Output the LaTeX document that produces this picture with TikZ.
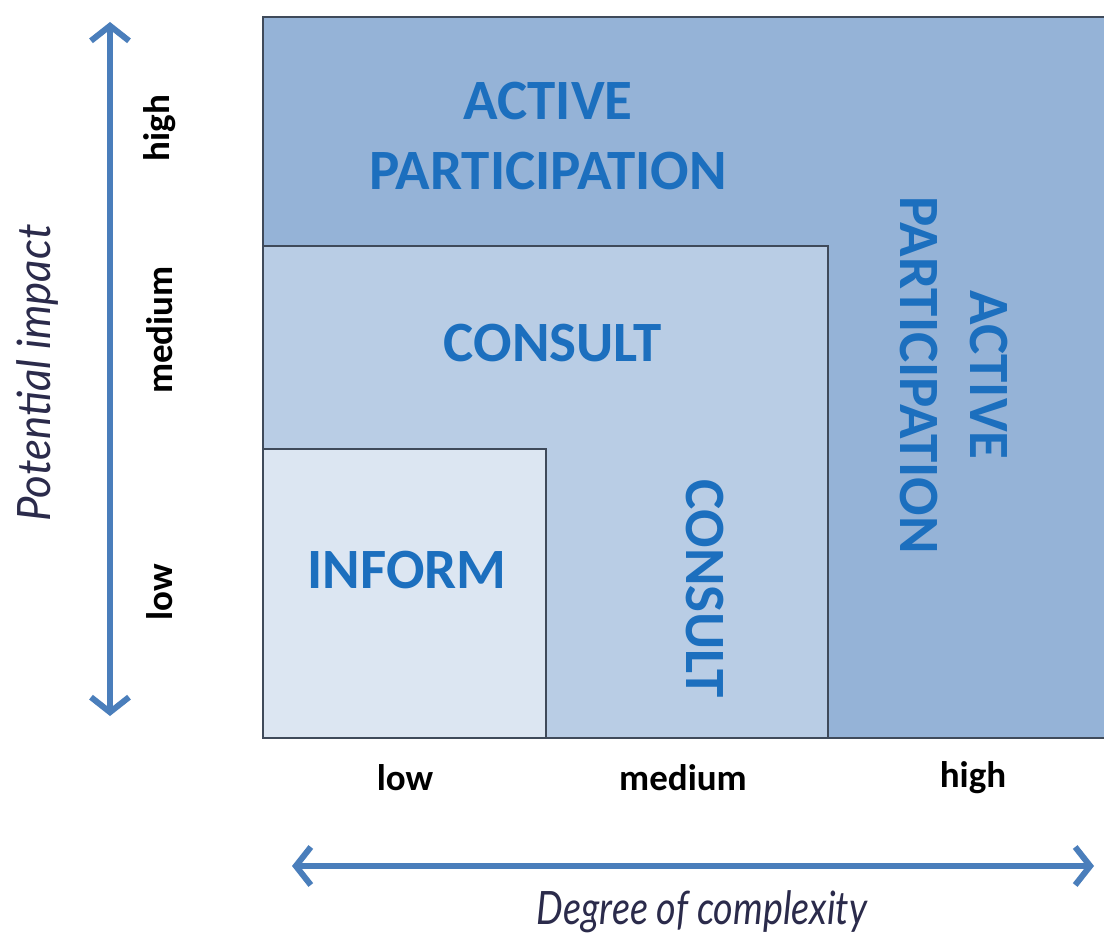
\documentclass[tikz,border=0pt]{standalone}
\usepackage{fontspec}
\setmainfont{Carlito}
\newfontfamily\axisfont{Lato}
\usetikzlibrary{arrows.meta}
\definecolor{outerfill}{HTML}{95B3D7}
\definecolor{midfill}{HTML}{B9CDE5}
\definecolor{innerfill}{HTML}{DCE6F2}
\definecolor{framecol}{HTML}{3F4A5A}
\definecolor{txtblue}{HTML}{1C6FBE}
\definecolor{arrowblue}{HTML}{4A7EBB}
\definecolor{navy}{HTML}{2B2B4B}
\tikzset{
  region/.style={draw=framecol, line width=2pt, anchor=north west, inner sep=0pt, outer sep=0pt},
  big/.style={text=txtblue, font=\fontsize{57}{70}\selectfont\bfseries, align=center, inner sep=0pt},
  tick/.style={text=black, font=\fontsize{37}{40}\selectfont\bfseries, inner sep=0pt},
  axisname/.style={text=navy, font=\axisfont\fontsize{46}{50}\selectfont\itshape, inner sep=0pt},
  axisarrow/.style={draw=arrowblue, line width=6pt, {Straight Barb[length=15pt,width=38pt,line width=6pt]}-{Straight Barb[length=15pt,width=38pt,line width=6pt]}}
}
\begin{document}
\begin{tikzpicture}[x=1pt,y=-1pt]
\useasboundingbox[fill=white] (0,0) rectangle (1104,947);
\begin{scope}
\clip (0,0) rectangle (1104,947);
\node[region, fill=outerfill, minimum width=860pt, minimum height=721pt] (outer) at (263,17) {};
\node[region, fill=midfill, minimum width=565pt, minimum height=492pt] (mid) at (263,246) {};
\node[region, fill=innerfill, minimum width=283pt, minimum height=289pt] (inner) at (263,449) {};
\end{scope}
\node[big] (ap1) at (548,136) {ACTIVE\\PARTICIPATION};
\node[big] (cons1) at (553,343) {CONSULT};
\node[big] (inf) at (407,570) {INFORM};
\node[big, rotate=-90] (cons2) at (705,589) {CONSULT};
\node[big, rotate=-90] (ap2) at (954,375) {ACTIVE\\PARTICIPATION};
\node[tick, rotate=90] (yh) at (160,128) {high};
\node[tick, rotate=90] (ym) at (160,330) {medium};
\node[tick, rotate=90] (yl) at (160,592) {low};
\node[tick] (xl) at (405,778) {low};
\node[tick] (xm) at (683,778) {medium};
\node[tick] (xh) at (973,778) {high};
\coordinate (vtop) at (110,22);
\coordinate (vbot) at (110,716);
\coordinate (hl) at (292,866);
\coordinate (hr) at (1094,866);
\draw[axisarrow] (vbot) -- (vtop);
\draw[axisarrow] (hl) -- (hr);
\node[axisname, rotate=90, xscale=0.95] (pi) at (38,373) {Potential impact};
\node[axisname, xscale=0.82] (dc) at (702,912) {Degree of complexity};
\end{tikzpicture}
\end{document}
